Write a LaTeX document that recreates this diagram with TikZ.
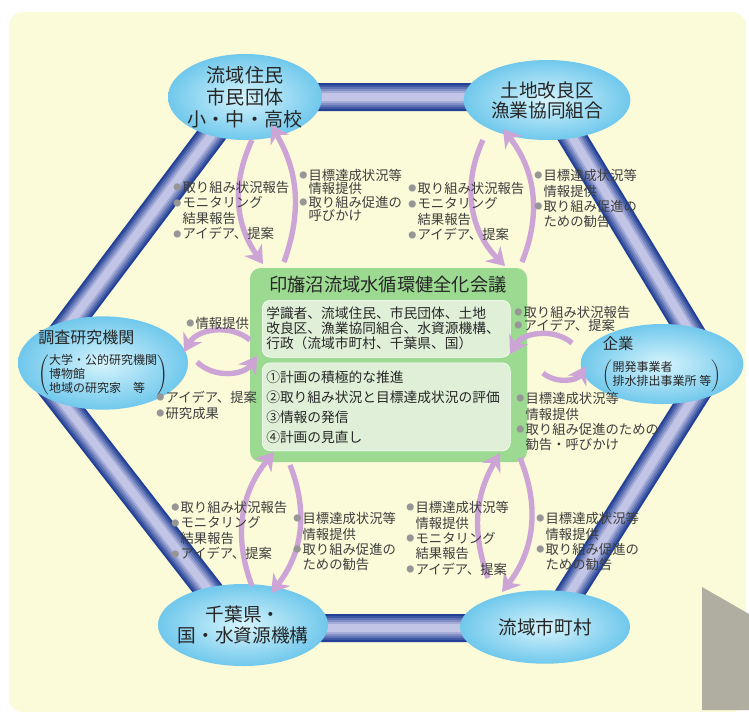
\documentclass[tikz,border=0pt]{standalone}
\usepackage{fontspec}
\setmainfont{Noto Sans CJK JP}
\usepackage{tikz}
\usetikzlibrary{positioning}
\usetikzlibrary{shapes.geometric}
\usetikzlibrary{arrows.meta}
\definecolor{panelyellow}{RGB}{251,250,217}
\definecolor{tubedark}{RGB}{34,64,150}
\definecolor{tubelight}{RGB}{222,220,244}
\definecolor{ovalin}{RGB}{214,244,252}
\definecolor{ovalout}{RGB}{112,200,236}
\definecolor{councilgreen}{RGB}{156,218,146}
\definecolor{innergreen}{RGB}{224,240,216}
\definecolor{loopviolet}{RGB}{204,164,214}
\definecolor{bulletgray}{RGB}{150,150,150}
\definecolor{notegray}{RGB}{62,62,62}
\definecolor{foldgray}{RGB}{176,174,160}
\newcommand{\bul}{\makebox[7pt][l]{\raisebox{1.4pt}{\fontsize{6pt}{6pt}\selectfont\color{bulletgray}●}}}
\newcommand{\ind}{\hspace*{7pt}}
\tikzset{%
  oval/.style = {ellipse,inner sep=-6pt,inner color=ovalin,outer color=ovalout,
        align=center,text=black!85},
  council/.style = {rectangle,rounded corners=8pt,fill=councilgreen,
        minimum width=207.75pt,minimum height=145.5pt},
  inbox/.style = {rectangle,rounded corners=6pt,fill=innergreen,draw=white,
        text width=180pt,inner xsep=3pt,align=left,text=black!85,
        font=\fontsize{10.3pt}{11.25pt}\selectfont},
  bulletnote/.style = {anchor=north west,align=left,inner sep=0pt,text=notegray,
        font=\fontsize{10pt}{11.6pt}\selectfont},
  cyclearrow/.style = {-{Stealth[length=13pt,width=16pt]},loopviolet,line width=4pt},
  tubeline/.style = {line join=round}
}
\begin{document}
\begin{tikzpicture}[x=0.75pt,y=-0.75pt]
  \useasboundingbox (0,0) rectangle (749,719);
  \fill[white] (0,0) rectangle (749,719);
  \fill[panelyellow,rounded corners=10pt] (9,12) rectangle (746,712);
  \fill[foldgray] (702,587) -- (749,614) -- (749,710) -- (702,710) -- cycle;

  % hexagon of pipes
  \coordinate (hxTL) at (240,97);
  \coordinate (hxTR) at (548,97);
  \coordinate (hxR) at (712,368);
  \coordinate (hxBR) at (548,628);
  \coordinate (hxBL) at (238,628);
  \coordinate (hxL) at (36,368);
  \foreach \w/\m in {21/100,18/85,15/68,12/50,9/32,6/15}
    \draw[tubeline,tubedark!\m!tubelight,line width=\w pt]
      (hxTL) -- (hxTR) -- (hxR) -- (hxBR) -- (hxBL) -- (hxL) -- cycle;

  % groups
  \node[oval,minimum width=115.5pt,minimum height=64.5pt,font=\fontsize{14.3pt}{16.5pt}\selectfont]
       (citizens) at (245,97) {流域住民\\市民団体\\小・中・高校};
  \node[oval,minimum width=125pt,minimum height=60pt,font=\fontsize{14pt}{15pt}\selectfont]
       (fishery) at (547,100) {土地改良区\\漁業協同組合};
  \node[oval,align=left,minimum width=127.5pt,minimum height=70pt]
       (research) at (103,363) {{\fontsize{12pt}{13pt}\selectfont 調査研究機関}\\[6pt]
       {\fontsize{9pt}{8.8pt}\selectfont$\left(\begin{tabular}{@{}l@{}}大学・公的研究機関\\博物館\\地域の研究家　等\end{tabular}\right)$}};
  \node[oval,align=left,minimum width=122pt,minimum height=60pt]
       (company) at (662,364) {{\fontsize{11.5pt}{12pt}\selectfont 企業}\\[6pt]
       {\fontsize{9pt}{10.5pt}\selectfont$\left(\begin{tabular}{@{}l@{}}開発事業者\\排水排出事業所 等\end{tabular}\right)$}};
  \node[oval,minimum width=127.5pt,minimum height=61.5pt,font=\fontsize{14pt}{15.75pt}\selectfont]
       (state) at (243,625) {千葉県・\\国・水資源機構};
  \node[oval,minimum width=127.5pt,minimum height=55pt,font=\fontsize{14pt}{15pt}\selectfont]
       (towns) at (545,627) {流域市町村};

  % council
  \node[council] (council) at (388.5,365) {};
  \node[font=\fontsize{13.7pt}{14pt}\selectfont,text=black!85] (title) at (388,285) {印旛沼流域水循環健全化会議};
  \node[inbox,minimum height=42.75pt,anchor=north west] (members) at (262,300)
       {学識者、流域住民、市民団体、土地\\改良区、漁業協同組合、水資源機構、\\行政（流域市町村、千葉県、国）};
  \node[inbox,minimum height=66pt,font=\fontsize{10.3pt}{15pt}\selectfont] (tasks) [below=3.75pt of members]
       {①計画の積極的な推進\\②取り組み状況と目標達成状況の評価\\③情報の発信\\④計画の見直し};

  % arrows between the groups and the council
  \coordinate (cit1) at (252,140);  \coordinate (cit2) at (263,264);
  \coordinate (cit3) at (284,262);  \coordinate (cit4) at (271,125);
  \coordinate (fis1) at (483,140);  \coordinate (fis2) at (505,266);
  \coordinate (fis3) at (522,262);  \coordinate (fis4) at (503,129);
  \coordinate (res1) at (250,340);  \coordinate (res2) at (184,352);
  \coordinate (res3) at (197,362);  \coordinate (res4) at (257,356);
  \coordinate (com1) at (572,343);  \coordinate (com2) at (510,354);
  \coordinate (com3) at (543,373);  \coordinate (com4) at (586,366);
  \coordinate (sta1) at (252,586);  \coordinate (sta2) at (274,452);
  \coordinate (sta3) at (290,465);  \coordinate (sta4) at (271,593);
  \coordinate (tow1) at (488,578);  \coordinate (tow2) at (500,453);
  \coordinate (tow3) at (520,458);  \coordinate (tow4) at (502,592);

  \draw[cyclearrow] (cit1) to[bend right=30] (cit2);
  \draw[cyclearrow] (cit3) to[bend right=25] (cit4);
  \draw[cyclearrow] (fis1) to[bend right=35] (fis2);
  \draw[cyclearrow] (fis3) to[bend right=30] (fis4);
  \draw[cyclearrow] (res1) to[bend right=50] (res2);
  \draw[cyclearrow] (res3) to[bend right=50] (res4);
  \draw[cyclearrow] (com1) to[bend right=50] (com2);
  \draw[cyclearrow] (com3) to[bend right=50] (com4);
  \draw[cyclearrow] (sta1) to[bend left=30] (sta2);
  \draw[cyclearrow] (sta3) to[bend left=30] (sta4);
  \draw[cyclearrow] (tow1) to[bend left=25] (tow2);
  \draw[cyclearrow] (tow3) to[bend left=30] (tow4);

  % notes beside the arrows
  \node[bulletnote] (citUp) at (173,181)
       {\bul 取り組み状況報告\\ \bul モニタリング\\ \ind 結果報告\\ \bul アイデア、提案};
  \node[bulletnote,font=\fontsize{10pt}{10pt}\selectfont] (citDown) at (299,169)
       {\bul 目標達成状況等\\ \ind 情報提供\\ \bul 取り組み促進の\\ \ind 呼びかけ};
  \node[bulletnote] (fisUp) at (408,182)
       {\bul 取り組み状況報告\\ \bul モニタリング\\ \ind 結果報告\\ \bul アイデア、提案};
  \node[bulletnote] (fisDown) at (534,169)
       {\bul 目標達成状況等\\ \ind 情報提供\\ \bul 取り組み促進の\\ \ind ための勧告};
  \node[bulletnote] (resDown) at (186,317) {\bul 情報提供};
  \node[bulletnote] (resUp) at (156,391) {\bul アイデア、提案\\ \bul 研究成果};
  \node[bulletnote,font=\fontsize{10pt}{10pt}\selectfont] (comUp) at (514,306)
       {\bul 取り組み状況報告\\ \bul アイデア、提案};
  \node[bulletnote] (comDown) at (516,392)
       {\bul 目標達成状況等\\ \ind 情報提供\\ \bul 取り組み促進のための\\ \ind 勧告・呼びかけ};
  \node[bulletnote] (staUp) at (171,501)
       {\bul 取り組み状況報告\\ \bul モニタリング\\ \ind 結果報告\\ \bul アイデア、提案};
  \node[bulletnote] (staDown) at (293,512)
       {\bul 目標達成状況等\\ \ind 情報提供\\ \bul 取り組み促進の\\ \ind ための勧告};
  \node[bulletnote] (towUp) at (406,501)
       {\bul 目標達成状況等\\ \ind 情報提供\\ \bul モニタリング\\ \ind 結果報告\\ \bul アイデア、提案};
  \node[bulletnote] (towDown) at (536,512)
       {\bul 目標達成状況等\\ \ind 情報提供\\ \bul 取り組み促進の\\ \ind ための勧告};
\end{tikzpicture}
\end{document}
